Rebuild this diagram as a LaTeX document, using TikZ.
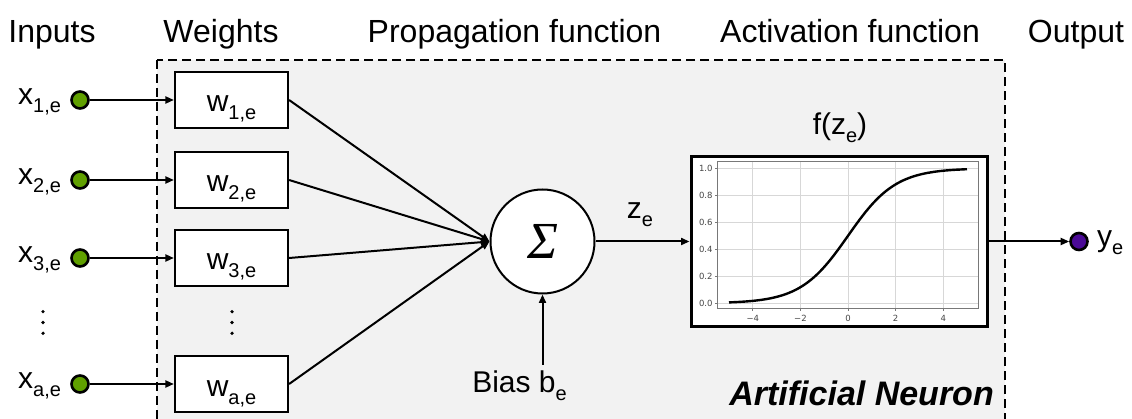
\documentclass[tikz,border=0pt]{standalone}
\usepackage{fontspec}
\setmainfont{Liberation Sans}
\newfontfamily\tickfont{DejaVu Sans}
\newfontfamily\sigmafont{Liberation Serif}
\usetikzlibrary{arrows.meta}
\definecolor{panel}{RGB}{242,242,242}
\definecolor{ingreen}{RGB}{96,160,0}
\definecolor{outpurple}{RGB}{75,10,150}
\definecolor{gridc}{RGB}{215,215,215}
\definecolor{axc}{RGB}{120,120,120}
\definecolor{tickc}{RGB}{70,70,70}
% lowered, smaller index text
\newcommand\lowsub[1]{\raisebox{-8pt}{\fontsize{20}{20}\selectfont #1}}
\begin{document}
\begin{tikzpicture}[x=1pt,y=-1pt,
  lbl/.style={font=\fontsize{30}{34}\selectfont, inner sep=0pt},
  head/.style={font=\fontsize{32}{36}\selectfont, inner sep=0pt, anchor=base},
  wbox/.style={draw, line width=2.2pt, fill=white, minimum width=113pt, minimum height=56pt, inner sep=0pt},
  innode/.style={circle, draw, line width=2.6pt, fill=ingreen, minimum size=17pt, inner sep=0pt},
  conn/.style={line width=2pt, -{Triangle[length=8.5pt,width=7pt]}},
  ticklbl/.style={font=\tickfont\fontsize{8.5}{9}\selectfont, text=tickc, inner sep=0pt},
]
\useasboundingbox (0,0) rectangle (1132,419);

% neuron panel
\draw[fill=panel, line width=2pt, dash pattern=on 9pt off 5pt] (157,60) rectangle (1005,440);

% column headings
\node[head] (hin) at (52,43) {Inputs};
\node[head] (hw) at (221,43) {Weights};
\node[head] (hp) at (514.5,43) {Propagation function};
\node[head] (ha) at (850,43) {Activation function};
\node[head] (ho) at (1076,43) {Output};

% summation unit
\node[circle, draw, line width=2pt, fill=white, minimum size=104pt, inner sep=0pt] (sum) at (542.5,241.5)
  {\sigmafont\itshape\fontsize{52}{52}\selectfont Σ};

% inputs and weights
\foreach \i/\y in {1/100,2/180,3/258,a/384}{
  \node[innode] (x\i) at (80,\y) {};
  \node[lbl, anchor=base west] (xl\i) at (18,\y+4.5) {x\lowsub{\i,e}};
  \node[wbox] (w\i) at (231.5,\y) {};
  \node[lbl, anchor=base] (wl\i) at (231.5,\y+12) {w\lowsub{\i,e}};
  \draw[conn] (x\i) -- (w\i);
  \draw[conn] (w\i.east) -- (sum.west);
}

% vertical ellipses
\foreach \dy in {311.7,322.5,333.3}{
  \fill (43,\dy) circle (1.8pt);
  \fill (232,\dy) circle (1.8pt);
}

% bias
\node[lbl, anchor=base] (bias) at (519.5,392) {Bias b\lowsub{e}};
\coordinate (biastop) at (542.5,365);
\draw[conn] (biastop) -- (sum.south);

% activation
\node[draw, line width=3pt, fill=white, minimum width=296pt, minimum height=170pt, inner sep=0pt] (act) at (839,241.5) {};
\node[lbl, anchor=base] (fl) at (840,135) {f(z\lowsub{e})};
\node[lbl, anchor=base] (zl) at (640,219) {z\lowsub{e}};
\draw[conn] (sum.east) -- (act.west);

\begin{scope}[shift={(848,303.3)}, x=23.8pt, y=135pt]
  \draw[gridc, line width=0.8pt]
    \foreach \gx in {-4,-2,0,2,4} {(\gx,-0.042) -- (\gx,1.047)}
    \foreach \gy in {0,0.2,0.4,0.6,0.8,1} {(-5.5,\gy) -- (5.5,\gy)};
  \draw[axc, line width=1pt] (-5.5,-0.042) rectangle (5.5,1.047);
  \draw[axc, line width=0.8pt]
    \foreach \gx in {-4,-2,0,2,4} {(\gx,-0.042) -- ++(0,-2.5pt)}
    \foreach \gy in {0,0.2,0.4,0.6,0.8,1} {(-5.5,\gy) -- ++(-2.5pt,0)};
  \foreach \gx/\t in {-4/−4,-2/−2,0/0,2/2,4/4}
    \node[ticklbl] at (\gx,-0.11) {\t};
  \foreach \gy/\t in {0/0.0,0.2/0.2,0.4/0.4,0.6/0.6,0.8/0.8,1/1.0}
    \node[ticklbl, anchor=east] at ([xshift=-4.3pt]-5.5,\gy) {\t};
  \draw[line width=2.4pt, line join=round] plot[domain=-5:5, samples=90, smooth] (\x,{1/(1+exp(-\x))});
\end{scope}

% output
\node[circle, draw, line width=2.6pt, fill=outpurple, minimum size=17pt, inner sep=0pt] (yout) at (1079,241.5) {};
\node[lbl, anchor=base west] (yl) at (1097,247) {y\lowsub{e}};
\draw[conn] (act.east) -- (yout.west);

% panel title
\node[anchor=base east, inner sep=0pt, font=\fontsize{34}{36}\selectfont\bfseries\itshape] (title) at (994,405) {Artificial Neuron};
\end{tikzpicture}
\end{document}
